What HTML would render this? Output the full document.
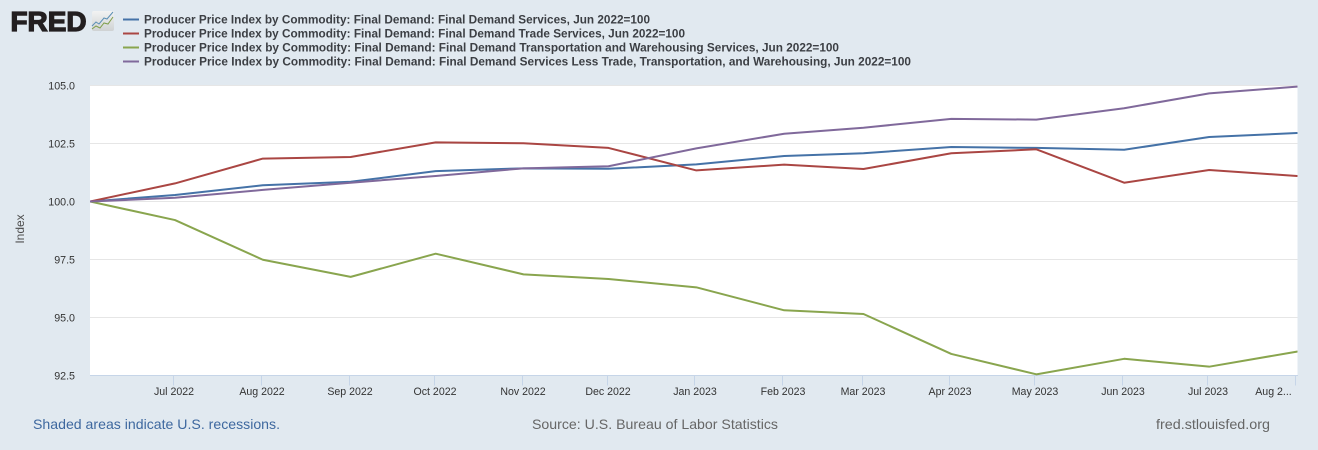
<!DOCTYPE html>
<html lang="en">
<head>
<meta charset="utf-8">
<title>FRED Producer Price Index chart</title>
<style>
html,body{margin:0;padding:0;background:#e1e9f0;}
body{width:1318px;height:450px;overflow:hidden;position:relative;font-family:"Liberation Sans",Arial,sans-serif;}
svg{position:absolute;left:0;top:0;display:block;}
text{font-family:"Liberation Sans",Arial,sans-serif;}
</style>
</head>
<body>
<svg id="chart" width="1318" height="450" viewBox="0 0 1318 450" xmlns="http://www.w3.org/2000/svg">
  <defs>
    <clipPath id="plot-clip"><rect x="90" y="85" width="1207.5" height="291"></rect></clipPath>
    <linearGradient id="icon-bg" x1="0" y1="0" x2="0" y2="1">
      <stop offset="0" stop-color="#f2f3f3"></stop>
      <stop offset="1" stop-color="#cfd2d3"></stop>
    </linearGradient>
  </defs>
  <rect x="0" y="0" width="1318" height="450" fill="#e1e9f0"></rect>
  <g>
    <text x="10.5" y="31" font-size="28" font-weight="bold" fill="#231f20" stroke="#231f20" stroke-width="1.3" textLength="76" lengthAdjust="spacingAndGlyphs">FRED</text>
    <rect x="92" y="11" width="22" height="20" rx="2" fill="url(#icon-bg)"></rect>
    <polyline points="92,26 96,22 99,24 104,18 107,19 113,12" fill="none" stroke="#5b8fb5" stroke-width="1"></polyline>
    <polyline points="92,29 96,26 100,28 104,23 108,24 113,17" fill="none" stroke="#7f9e4a" stroke-width="1"></polyline>
  </g>
  <g id="legend" font-size="12" font-weight="bold" fill="#3c3f44">
    <g>
      <line x1="123" x2="139" y1="19.5" y2="19.5" stroke="#4572a7" stroke-width="2"></line>
      <text x="144" y="23.5" textLength="506" lengthAdjust="spacingAndGlyphs">Producer Price Index by Commodity: Final Demand: Final Demand Services, Jun 2022=100</text>
    </g>
    <g>
      <line x1="123" x2="139" y1="33.5" y2="33.5" stroke="#aa4643" stroke-width="2"></line>
      <text x="144" y="37.5" textLength="541" lengthAdjust="spacingAndGlyphs">Producer Price Index by Commodity: Final Demand: Final Demand Trade Services, Jun 2022=100</text>
    </g>
    <g>
      <line x1="123" x2="139" y1="47.5" y2="47.5" stroke="#89a54e" stroke-width="2"></line>
      <text x="144" y="51.5" textLength="695" lengthAdjust="spacingAndGlyphs">Producer Price Index by Commodity: Final Demand: Final Demand Transportation and Warehousing Services, Jun 2022=100</text>
    </g>
    <g>
      <line x1="123" x2="139" y1="61.5" y2="61.5" stroke="#80699b" stroke-width="2"></line>
      <text x="144" y="65.5" textLength="767" lengthAdjust="spacingAndGlyphs">Producer Price Index by Commodity: Final Demand: Final Demand Services Less Trade, Transportation, and Warehousing, Jun 2022=100</text>
    </g>
  </g>
  <rect x="90" y="85" width="1207.5" height="290.5" fill="#ffffff"></rect>
  <g id="grid"></g>
  <g id="axes"></g>
  <g id="series" clip-path="url(#plot-clip)"></g>
  <text x="0" y="0" transform="translate(24,229) rotate(-90)" text-anchor="middle" font-size="12" fill="#4d4d4d">Index</text>
  <text x="33" y="429" font-size="14" fill="#3e689f" textLength="247" lengthAdjust="spacingAndGlyphs">Shaded areas indicate U.S. recessions.</text>
  <text x="532" y="429" font-size="14" fill="#666666" textLength="246" lengthAdjust="spacingAndGlyphs">Source: U.S. Bureau of Labor Statistics</text>
  <text x="1156" y="429" font-size="14" fill="#666666" textLength="114" lengthAdjust="spacingAndGlyphs">fred.stlouisfed.org</text>
</svg>
<script>
const dates = ["2022-06-01","2022-07-01","2022-08-01","2022-09-01","2022-10-01","2022-11-01","2022-12-01","2023-01-01","2023-02-01","2023-03-01","2023-04-01","2023-05-01","2023-06-01","2023-07-01","2023-08-01"];
const xTickDates = ["2022-07-01","2022-08-01","2022-09-01","2022-10-01","2022-11-01","2022-12-01","2023-01-01","2023-02-01","2023-03-01","2023-04-01","2023-05-01","2023-06-01","2023-07-01","2023-08-01"];
const xTickLabels = ["Jul 2022","Aug 2022","Sep 2022","Oct 2022","Nov 2022","Dec 2022","Jan 2023","Feb 2023","Mar 2023","Apr 2023","May 2023","Jun 2023","Jul 2023","Aug 2..."];
const yTicks = [92.5,95,97.5,100,102.5,105];
const yTickLabels = ["92.5","95.0","97.5","100.0","102.5","105.0"];
const services = [100,100.28,100.70,100.85,101.31,101.43,101.41,101.60,101.96,102.08,102.35,102.31,102.23,102.78,102.95];
const tradeServices = [100,100.78,101.85,101.92,102.55,102.51,102.31,101.34,101.59,101.40,102.08,102.25,100.81,101.36,101.10];
const transportServices = [100,99.20,97.49,96.75,97.75,96.86,96.66,96.30,95.31,95.15,93.43,92.55,93.22,92.88,93.53];
const lessTradeServices = [100,100.16,100.50,100.81,101.10,101.43,101.52,102.29,102.92,103.18,103.56,103.53,104.02,104.66,104.95];

const SVG_NS = "http://www.w3.org/2000/svg";
const plotLeft = 90, plotRight = 1297, plotTop = 85.5, plotBottom = 375.5;
const startTime = Date.parse(dates[0]);
const endTime = Date.parse(dates[dates.length - 1]);
const yMin = yTicks[0];
const yMax = yTicks[yTicks.length - 1];

function xScale(dateString) {
  return plotLeft + (Date.parse(dateString) - startTime) / (endTime - startTime) * (plotRight - plotLeft);
}
function yScale(value) {
  return plotBottom - (value - yMin) / (yMax - yMin) * (plotBottom - plotTop);
}
function make(tag, attrs, parent) {
  const el = document.createElementNS(SVG_NS, tag);
  Object.keys(attrs).forEach(function (k) { el.setAttribute(k, attrs[k]); });
  parent.appendChild(el);
  return el;
}

const gridGroup = document.getElementById("grid");


const axesGroup = document.getElementById("axes");


const seriesGroup = document.getElementById("series");



yTicks.forEach(function (tick, i) {
  const y = Math.round(yScale(tick) - 0.5) + 0.5;
  if (tick !== yMin) {
    const grid = make("line", { x1: plotLeft, x2: plotRight + 0.5, y1: y, y2: y, stroke: "#e6e6e6", "stroke-width": 1 }, gridGroup);
    
    
  }
  const label = make("text", { x: 75, y: y + 4, "text-anchor": "end", "font-size": 10.7, fill: "#333333" }, axesGroup);
  label.textContent = yTickLabels[i];
  
  
});

const xAxisLine = make("line", { x1: plotLeft, x2: plotRight + 1, y1: plotBottom, y2: plotBottom, stroke: "#c6d5e8", "stroke-width": 1 }, axesGroup);



xTickDates.forEach(function (tickDate, i) {
  const x = Math.round(xScale(tickDate) - 1);
  const tick = make("line", { x1: x - 0.5, x2: x - 0.5, y1: plotBottom, y2: plotBottom + 10, stroke: "#c6d5e8", "stroke-width": 1 }, axesGroup);
  
  
  const isLast = i === xTickDates.length - 1;
  const label = make("text", { x: isLast ? x - 22.5 : x, y: 395, "text-anchor": "middle", "font-size": 10.6, fill: "#333333" }, axesGroup);
  label.textContent = xTickLabels[i];
  
  
});

function drawSeries(values, color) {
  const points = values.map(function (v, i) {
    return xScale(dates[i]).toFixed(2) + "," + yScale(v).toFixed(2);
  }).join(" ");
  return make("polyline", { points: points, fill: "none", stroke: color, "stroke-width": 2, "stroke-linejoin": "round", "stroke-linecap": "round" }, seriesGroup);
}

const servicesLine = drawSeries(services, "#4572a7");


const tradeLine = drawSeries(tradeServices, "#aa4643");


const transportLine = drawSeries(transportServices, "#89a54e");


const lessTradeLine = drawSeries(lessTradeServices, "#80699b");


</script>
</body>
</html>
